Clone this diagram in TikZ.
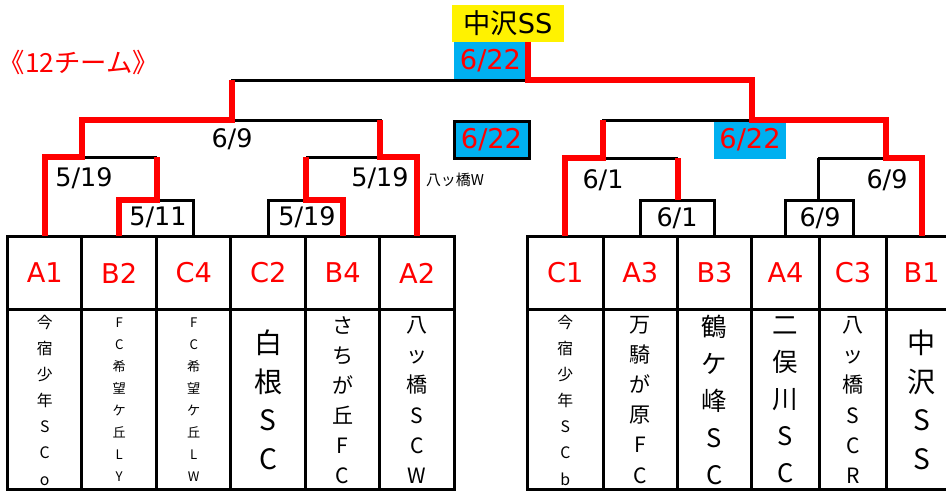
\documentclass[tikz,border=0pt]{standalone}
\usepackage{fontspec}
\setmainfont{DejaVu Sans}
\newfontfamily\jp{Noto Sans CJK JP}
\usepackage{xcolor}
\usepackage{tikz}
\usetikzlibrary{positioning}
\definecolor{sky}{RGB}{0,176,240}

\begin{document}
\begin{tikzpicture}
[
	x = 0.02cm, y = -0.02cm,
	seedbox/.style	= {draw, line width = 0.06cm, outer sep = 0cm, inner sep = 0cm, minimum width = 1.49cm, minimum height = 1.48cm, text = red, font = \fontsize{15.5}{18}\selectfont},
	teambox/.style	= {draw, line width = 0.06cm, outer sep = 0cm, inner sep = 0cm, minimum width = 1.49cm, minimum height = 3.6cm, align = center},
	nameXS/.style	= {teambox, font = \jp\fontsize{7.5}{12.5}\selectfont},
	nameS/.style	= {teambox, font = \jp\fontsize{9}{14.9}\selectfont},
	nameM/.style	= {teambox, font = \jp\fontsize{12}{17.1}\selectfont},
	nameL/.style	= {teambox, font = \jp\fontsize{14.5}{21}\selectfont},
	nameXL/.style	= {teambox, font = \jp\fontsize{16}{22}\selectfont},
	datelbl/.style	= {font = \fontsize{14.5}{17}\selectfont},
	skybox/.style	= {fill = sky, text = red, inner sep = 0cm, minimum width = 1.46cm, minimum height = 0.76cm, font = \fontsize{15.5}{18}\selectfont},
	loseline/.style	= {black, line width = 0.06cm},
	winline/.style	= {red, line width = 0.12cm},
]

	\useasboundingbox (0,0) rectangle (946,494);

	% left table
	\node (A1) [seedbox] at (44.75,273) {A1};
	\node (B2) [seedbox, right = 0cm of A1] {B2};
	\node (C4) [seedbox, right = 0cm of B2] {C4};
	\node (C2) [seedbox, right = 0cm of C4] {C2};
	\node (B4) [seedbox, right = 0cm of C2] {B4};
	\node (A2) [seedbox, right = 0cm of B4] {A2};
	%
	\node (nA1) [nameS, below = 0cm of A1] {今\\宿\\少\\年\\S\\C\\o};
	\node (nB2) [nameXS, below = 0cm of B2] {F\\C\\希\\望\\ケ\\丘\\L\\Y};
	\node (nC4) [nameXS, below = 0cm of C4] {F\\C\\希\\望\\ケ\\丘\\L\\W};
	\node (nC2) [nameXL, below = 0cm of C2] {白\\根\\S\\C};
	\node (nB4) [nameM, below = 0cm of B4] {さ\\ち\\が\\丘\\F\\C};
	\node (nA2) [nameM, below = 0cm of A2] {八\\ッ\\橋\\S\\C\\W};

	% right table
	\node (C1) [seedbox, minimum width = 1.52cm] at (565.3,273) {C1};
	\node (A3) [seedbox, minimum width = 1.48cm, right = 0cm of C1] {A3};
	\node (B3) [seedbox, minimum width = 1.49cm, right = 0cm of A3] {B3};
	\node (A4) [seedbox, minimum width = 1.35cm, right = 0cm of B3] {A4};
	\node (C3) [seedbox, minimum width = 1.35cm, right = 0cm of A4] {C3};
	\node (B1) [seedbox, minimum width = 1.4cm, right = 0cm of C3] {B1};
	%
	\node (nC1) [nameS, minimum width = 1.52cm, below = 0cm of C1] {今\\宿\\少\\年\\S\\C\\b};
	\node (nA3) [nameM, minimum width = 1.48cm, below = 0cm of A3] {万\\騎\\が\\原\\F\\C};
	\node (nB3) [nameL, minimum width = 1.49cm, below = 0cm of B3] {鶴\\ケ\\峰\\S\\C};
	\node (nA4) [nameL, minimum width = 1.35cm, below = 0cm of A4] {二\\俣\\川\\S\\C};
	\node (nC3) [nameM, minimum width = 1.35cm, below = 0cm of C3] {八\\ッ\\橋\\S\\C\\R};
	\node (nB1) [nameXL, minimum width = 1.4cm, below = 0cm of B1] {中\\沢\\S\\S};

	% top
	\node (champ) [fill = yellow, inner sep = 0cm, minimum width = 2.24cm, minimum height = 0.74cm, font = \fontsize{15.5}{18}\selectfont] at (508,23.5) {{\jp 中沢}SS};
	\node (title) [text = red, font = \jp\fontsize{15}{17}\selectfont] at (79,62) {《12チーム》};
	\node (d622c) [skybox] at (490.5,61) {6/22};
	\node (d622b) [skybox, draw, line width = 0.06cm, minimum width = 1.5cm, minimum height = 0.74cm] at (491.5,139.5) {6/22};
	\node (d622a) [skybox, minimum width = 1.44cm] at (750,140) {6/22};
	\node (note) [font = \jp\fontsize{8.5}{10}\selectfont] at (455,180) {八ッ橋W};

	% match dates
	\node (d511) [datelbl] at (158,217) {5/11};
	\node (d519a) [datelbl] at (307,217) {5/19};
	\node (d519b) [datelbl] at (84,178) {5/19};
	\node (d519c) [datelbl] at (380,178) {5/19};
	\node (d69a) [datelbl] at (232,139) {6/9};
	\node (d61a) [datelbl] at (677,218) {6/1};
	\node (d69b) [datelbl] at (820,218) {6/9};
	\node (d61b) [datelbl] at (603,180) {6/1};
	\node (d69c) [datelbl] at (887,180) {6/9};

	% junctions
	\coordinate (j511) at (157,200);
	\coordinate (j519a) at (306,200);
	\coordinate (j519b) at (82,157);
	\coordinate (j519c) at (380,157);
	\coordinate (j69a) at (232,120);
	\coordinate (jfin) at (528,80);
	\coordinate (j61a) at (678,200);
	\coordinate (j69b) at (818,200);
	\coordinate (j61b) at (603,158);
	\coordinate (j69c) at (886,158);
	\coordinate (j622) at (752,120);

	\draw [loseline] (B2.north) |- (C4.north |- j511) -- (C4.north);
	\draw [loseline] (j511) -- (j511 |- j519b);
	\draw [loseline] (C2.north) |- (B4.north |- j519a) -- (B4.north);
	\draw [loseline] (j519a) -- (j519a |- j519c);
	\draw [loseline] (A1.north) |- (j511 |- j519b);
	\draw [loseline] (j519a |- j519c) -| (A2.north);
	\draw [loseline] (j519b) -- (j519b |- j69a) -- (j519c |- j69a) -- (j519c);
	\draw [loseline] (j69a) -- (j69a |- jfin) -- (j622 |- jfin);
	%
	\draw [loseline] (A3.north) |- (B3.north |- j61a) -- (B3.north);
	\draw [loseline] (A4.north) |- (C3.north |- j69b) -- (C3.north);
	\draw [loseline] (j69b) -- (j69b |- j69c);
	\draw [loseline] (C1.north) |- (j61a |- j61b);
	\draw [loseline] (j69b |- j69c) -| (B1.north);
	\draw [loseline] (j61b) -- (j61b |- j622) -- (j69c |- j622) -- (j69c);
	\draw [loseline] (j622) -- (j622 |- jfin);

	\draw [winline] (A1.north) |- (j519b) -- (j519b |- j69a) -| (j69a |- jfin);
	\draw [winline] (B2.north) |- (j511) -- (j511 |- j519b);
	\draw [winline] (B4.north) |- (j519a) -- (j519a |- j519c);
	\draw [winline] (A2.north) |- (j519c) -- (j519c |- j69a);
	%
	\draw [winline] (C1.north) |- (j61b) -- (j61b |- j622);
	\draw [winline] (j61a) -- (j61a |- j61b);
	\draw [winline] (B1.north) |- (j69c) -- (j69c |- j622) -| (j622 |- jfin) -| (jfin |- champ.south);

\end{tikzpicture}
\end{document}
